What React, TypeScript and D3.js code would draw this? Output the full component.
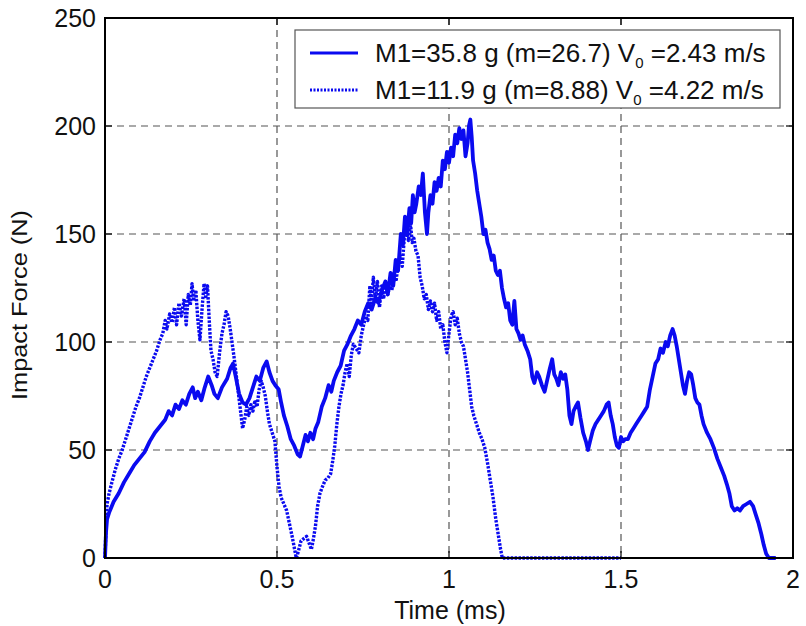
import React from "react";
import * as d3 from "d3";

// ---- data ----
const xTicks = [0, 0.5, 1, 1.5, 2];
const xTickLabels = ["0", "0.5", "1", "1.5", "2"];
const yTicks = [0, 50, 100, 150, 200, 250];
const yTickLabels = ["0", "50", "100", "150", "200", "250"];

const seriesNames = [
  "M1=35.8 g (m=26.7) V",
  "M1=11.9 g (m=8.88) V",
];
const seriesSpeeds = ["=2.43 m/s", "=4.22 m/s"];

// Solid: M1=35.8 g
const timeA = [
  0, 0.003, 0.006, 0.012, 0.025, 0.04, 0.055, 0.07, 0.085, 0.1, 0.115, 0.13, 0.145, 0.16, 0.175, 0.185, 0.195, 0.205, 0.215, 0.225,
  0.235, 0.245, 0.255, 0.262, 0.27, 0.28, 0.29, 0.3, 0.31, 0.318, 0.328, 0.34, 0.355, 0.365, 0.372, 0.38, 0.39, 0.4, 0.41, 0.42,
  0.43, 0.44, 0.45, 0.46, 0.47, 0.478, 0.487, 0.495, 0.505, 0.512, 0.52, 0.53, 0.54, 0.55, 0.56, 0.567, 0.575, 0.583, 0.59, 0.597,
  0.605, 0.612, 0.62, 0.63, 0.64, 0.65, 0.658, 0.665, 0.675, 0.685, 0.695, 0.705, 0.715, 0.725, 0.735, 0.745, 0.755, 0.765, 0.775, 0.785,
  0.795, 0.805, 0.815, 0.822, 0.83, 0.838, 0.845, 0.852, 0.86, 0.866, 0.872, 0.878, 0.885, 0.89, 0.895, 0.9, 0.905, 0.912, 0.918, 0.924,
  0.93, 0.936, 0.94, 0.946, 0.952, 0.958, 0.964, 0.97, 0.976, 0.982, 0.988, 0.994, 1.0, 1.006, 1.012, 1.018, 1.024, 1.03, 1.036, 1.042,
  1.048, 1.054, 1.058, 1.062, 1.066, 1.07, 1.076, 1.082, 1.088, 1.094, 1.1, 1.106, 1.112, 1.118, 1.124, 1.13, 1.136, 1.142, 1.148, 1.154,
  1.16, 1.166, 1.172, 1.178, 1.184, 1.19, 1.196, 1.202, 1.208, 1.214, 1.22, 1.228, 1.236, 1.242, 1.248, 1.256, 1.262, 1.27, 1.278, 1.285,
  1.292, 1.3, 1.306, 1.312, 1.318, 1.325, 1.332, 1.338, 1.344, 1.35, 1.356, 1.362, 1.368, 1.375, 1.382, 1.39, 1.398, 1.404, 1.41, 1.418,
  1.426, 1.434, 1.442, 1.45, 1.458, 1.464, 1.47, 1.476, 1.482, 1.488, 1.494, 1.5, 1.506, 1.512, 1.52, 1.528, 1.536, 1.544, 1.552, 1.56,
  1.568, 1.576, 1.584, 1.592, 1.6, 1.608, 1.615, 1.622, 1.63, 1.636, 1.643, 1.65, 1.656, 1.662, 1.668, 1.674, 1.68, 1.686, 1.692, 1.698,
  1.704, 1.71, 1.716, 1.722, 1.728, 1.734, 1.74, 1.75, 1.76, 1.77, 1.78, 1.79, 1.8, 1.808, 1.815, 1.822, 1.83, 1.838, 1.846, 1.855,
  1.865, 1.875, 1.884, 1.892, 1.9, 1.908, 1.915, 1.922, 1.93, 1.95,
];
const forceA = [
  0, 12, 18, 21, 26, 30, 35, 39, 43, 46, 49, 54, 58, 61, 64, 68, 66, 71, 69, 73,
  71, 76, 79, 74, 77, 73, 79, 84, 80, 76, 74, 79, 83, 88, 90, 84, 76, 72, 71, 74,
  79, 84, 82, 88, 91, 86, 82, 80, 78, 72, 66, 61, 55, 52, 48, 47, 52, 57, 54, 58,
  55, 60, 63, 70, 74, 80, 77, 82, 86, 89, 96, 99, 103, 106, 110, 108, 114, 118, 115, 120,
  118, 124, 128, 122, 132, 126, 138, 133, 150, 145, 158, 150, 162, 155, 168, 160, 164, 172, 168, 178,
  160, 150, 160, 168, 164, 174, 170, 176, 172, 184, 180, 188, 183, 190, 186, 196, 192, 199, 194, 198,
  186, 192, 200, 203, 195, 184, 178, 170, 164, 158, 150, 152, 146, 143, 138, 140, 133, 131, 133, 125,
  120, 116, 118, 110, 108, 119, 106, 104, 101, 103, 99, 96, 92, 84, 81, 86, 84, 80, 77, 82,
  87, 92, 85, 83, 80, 86, 83, 85, 78, 66, 62, 68, 70, 72, 65, 58, 54, 50, 54, 59,
  62, 64, 66, 68, 71, 72, 66, 62, 56, 52, 51, 56, 54, 55, 55, 58, 60, 62, 64, 66,
  68, 70, 78, 84, 90, 92, 97, 95, 100, 98, 103, 106, 103, 98, 92, 86, 80, 76, 82, 86,
  85, 80, 74, 72, 71, 66, 62, 58, 55, 51, 46, 42, 38, 34, 30, 24, 22, 23, 22, 24,
  25, 26, 24, 20, 16, 11, 6, 2, 0, 0,
];

// Dotted: M1=11.9 g
const timeB = [
  0, 0.003, 0.006, 0.012, 0.02, 0.03, 0.04, 0.05, 0.06, 0.07, 0.08, 0.09, 0.1, 0.11, 0.12, 0.13, 0.14, 0.15, 0.16, 0.168,
  0.175, 0.18, 0.188, 0.195, 0.202, 0.208, 0.215, 0.222, 0.23, 0.236, 0.242, 0.248, 0.253, 0.258, 0.264, 0.27, 0.276, 0.282, 0.288, 0.293,
  0.298, 0.303, 0.308, 0.314, 0.32, 0.326, 0.333, 0.34, 0.346, 0.352, 0.358, 0.364, 0.37, 0.376, 0.382, 0.388, 0.394, 0.4, 0.406, 0.412,
  0.418, 0.424, 0.43, 0.436, 0.442, 0.448, 0.454, 0.46, 0.466, 0.472, 0.478, 0.486, 0.494, 0.5, 0.506, 0.512, 0.52, 0.528, 0.536, 0.544,
  0.55, 0.556, 0.562, 0.57, 0.578, 0.586, 0.593, 0.6, 0.606, 0.612, 0.618, 0.625, 0.632, 0.64, 0.648, 0.656, 0.662, 0.668, 0.674, 0.68,
  0.686, 0.692, 0.698, 0.704, 0.71, 0.716, 0.722, 0.73, 0.738, 0.745, 0.752, 0.758, 0.764, 0.77, 0.775, 0.78, 0.786, 0.792, 0.798, 0.804,
  0.81, 0.816, 0.822, 0.828, 0.834, 0.84, 0.846, 0.852, 0.858, 0.864, 0.87, 0.876, 0.882, 0.888, 0.893, 0.898, 0.904, 0.91, 0.916, 0.922,
  0.928, 0.934, 0.94, 0.946, 0.952, 0.958, 0.964, 0.97, 0.976, 0.982, 0.988, 0.994, 1.0, 1.006, 1.012, 1.018, 1.024, 1.03, 1.036, 1.042,
  1.048, 1.054, 1.06, 1.066, 1.072, 1.08, 1.088, 1.096, 1.104, 1.112, 1.12, 1.128, 1.136, 1.144, 1.15, 1.155, 1.5,
];
const forceB = [
  0, 15, 25, 30, 35, 41, 46, 50, 55, 60, 65, 70, 74, 79, 84, 88, 92, 96, 101, 104,
  110, 106, 113, 109, 116, 108, 118, 112, 120, 108, 122, 117, 127, 119, 124, 110, 101, 115, 127, 121,
  126, 110, 96, 92, 86, 84, 95, 104, 108, 114, 112, 106, 99, 92, 84, 76, 68, 60, 64, 70,
  66, 71, 68, 73, 70, 78, 82, 79, 75, 68, 62, 58, 54, 42, 33, 28, 25, 22, 16, 10,
  5, 0, 3, 8, 9, 10, 7, 4, 9, 15, 24, 30, 33, 36, 37, 39, 45, 52, 62, 70,
  76, 80, 86, 90, 84, 94, 99, 97, 95, 103, 108, 112, 110, 126, 118, 130, 120, 128, 116, 126,
  120, 128, 122, 126, 124, 132, 128, 136, 140, 135, 148, 152, 147, 155, 146, 148, 142, 140, 130, 126,
  120, 122, 115, 119, 114, 118, 110, 114, 106, 108, 100, 95, 104, 112, 114, 108, 111, 104, 100, 98,
  92, 86, 78, 70, 66, 62, 58, 55, 51, 44, 36, 28, 18, 10, 4, 0, 0,
];

const W = 806;
const H = 626;
const M = { left: 105, top: 18, right: 793, bottom: 558 };
const BLUE = "#0a0af0";
const FONT = "Liberation Sans, Arial, sans-serif";

export default function App() {
  const x = d3.scaleLinear().domain([0, 2]).range([M.left, M.right]);
  const y = d3.scaleLinear().domain([0, 250]).range([M.bottom, M.top]);
  const line = d3
    .line<[number, number]>()
    .x((d) => x(d[0]))
    .y((d) => y(d[1]));
  const ptsA: [number, number][] = timeA.map((t, i) => [t, forceA[i]]);
  const ptsB: [number, number][] = timeB.map((t, i) => [t, forceB[i]]);

  const lg = { x: 295, y: 30, w: 485, h: 78 };

  return (
    <svg
      width={W}
      height={H}
      style={{ position: "absolute", left: 0, top: 0, background: "#fff" }}
      fontFamily={FONT}
    >
      <rect x={0} y={0} width={W} height={H} fill="#fff" />
      {/* grid */}
      {xTicks.slice(1, -1).map((t) => (
        <line key={"gx" + t} x1={x(t)} x2={x(t)} y1={M.top} y2={M.bottom} stroke="#555" strokeWidth={1.2} strokeDasharray="7,5" />
      ))}
      {yTicks.slice(1, -1).map((t) => (
        <line key={"gy" + t} x1={M.left} x2={M.right} y1={y(t)} y2={y(t)} stroke="#555" strokeWidth={1.2} strokeDasharray="7,5" />
      ))}
      {/* data */}
      <path d={line(ptsB) || ""} fill="none" stroke={BLUE} strokeWidth={3.4} strokeDasharray="2.5,1.4" strokeLinejoin="round" />
      <path d={line(ptsA) || ""} fill="none" stroke={BLUE} strokeWidth={3.8} strokeLinejoin="round" />
      {/* box */}
      <rect x={M.left} y={M.top} width={M.right - M.left} height={M.bottom - M.top} fill="none" stroke="#000" strokeWidth={2} />
      {/* ticks */}
      {xTicks.map((t) => (
        <g key={"tx" + t}>
          <line x1={x(t)} x2={x(t)} y1={M.bottom} y2={M.bottom - 7} stroke="#000" strokeWidth={1.2} />
          <line x1={x(t)} x2={x(t)} y1={M.top} y2={M.top + 7} stroke="#000" strokeWidth={1.2} />
        </g>
      ))}
      {yTicks.map((t) => (
        <g key={"ty" + t}>
          <line x1={M.left} x2={M.left + 7} y1={y(t)} y2={y(t)} stroke="#000" strokeWidth={1.2} />
          <line x1={M.right} x2={M.right - 7} y1={y(t)} y2={y(t)} stroke="#000" strokeWidth={1.2} />
        </g>
      ))}
      {/* tick labels */}
      {xTicks.map((t, i) => (
        <text key={"lx" + t} x={x(t)} y={588} textAnchor="middle" fontSize={25} fill="#111">
          {xTickLabels[i]}
        </text>
      ))}
      {yTicks.map((t, i) => (
        <text key={"ly" + t} x={96} y={y(t) + 9} textAnchor="end" fontSize={25} fill="#111">
          {yTickLabels[i]}
        </text>
      ))}
      {/* axis labels */}
      <text x={450} y={619} textAnchor="middle" fontSize={25} fill="#111">
        Time (ms)
      </text>
      <text
        transform={`translate(27,305) rotate(-90)`}
        textAnchor="middle"
        fontSize={22}
        textLength={190}
        lengthAdjust="spacingAndGlyphs"
        fill="#111"
      >
        Impact Force (N)
      </text>
      {/* legend */}
      <rect x={lg.x} y={lg.y} width={lg.w} height={lg.h} fill="#fff" stroke="#555" strokeWidth={1.2} />
      {seriesNames.map((name, i) => {
        const cy = lg.y + 23 + i * 37;
        return (
          <g key={"lg" + i}>
            <line
              x1={310}
              x2={358}
              y1={cy}
              y2={cy}
              stroke={BLUE}
              strokeWidth={3}
              strokeDasharray={i === 1 ? "2,1.5" : undefined}
            />
            <text x={375} y={cy + 9} fontSize={26} fill="#111">
              {name}
              <tspan fontSize={15} dy={6}>0</tspan>
              <tspan dy={-6}>{" " + seriesSpeeds[i]}</tspan>
            </text>
          </g>
        );
      })}
    </svg>
  );
}
